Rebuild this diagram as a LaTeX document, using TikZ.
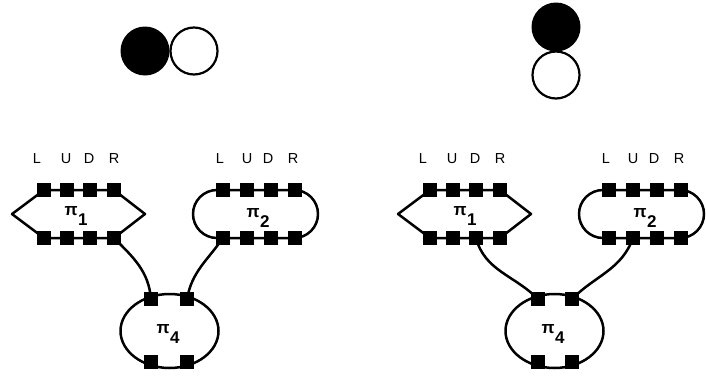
\documentclass[tikz,border=0pt]{standalone}
\usepackage{fontspec}
\setmainfont{Liberation Sans}
\begin{document}
\begin{tikzpicture}[x=1pt,y=-1pt,
  wire/.style={line width=2.5pt,line join=round},
  port/.style={fill=black,draw=none,minimum size=14pt,inner sep=0pt,outer sep=0pt},
  dirlabel/.style={font=\fontsize{14.5}{16}\selectfont,inner sep=0pt},
  pilabel/.style={font=\fontsize{17}{19}\selectfont\bfseries,inner sep=0pt},
  disc/.style={line width=2.2pt}]
\newcommand\pisub[1]{π\kern0.5pt\raisebox{-10pt}{#1}}
\useasboundingbox (0,0) rectangle (706,375);

% ---- orientation markers ----
\fill[disc] (145,51) circle (24.5);
\draw[disc,fill=white] (194,51) circle (23.5);
\fill[disc] (556,27) circle (24.5);
\draw[disc,fill=white] (556,75) circle (23.5);

% ---- direction labels ----
\foreach \dx in {0,386}{
  \node[dirlabel] (l\dx a) at (37+\dx,159) {L};
  \node[dirlabel] (u\dx a) at (66+\dx,159) {U};
  \node[dirlabel] (d\dx a) at (89+\dx,159) {D};
  \node[dirlabel] (r\dx a) at (114+\dx,159) {R};
  \node[dirlabel] (l\dx b) at (220+\dx,159) {L};
  \node[dirlabel] (u\dx b) at (247+\dx,159) {U};
  \node[dirlabel] (d\dx b) at (268+\dx,159) {D};
  \node[dirlabel] (r\dx b) at (293+\dx,159) {R};
}

% ---- module outlines ----
\foreach \dx in {0,386}{
  % hexagonal module pi_1
  \draw[wire] (44+\dx,190) -- (114+\dx,190) -- (145+\dx,214) -- (114+\dx,238)
        -- (44+\dx,238) -- (12+\dx,214) -- cycle;
  % rounded module pi_2
  \draw[wire,rounded corners=24pt] (193+\dx,190) rectangle (318+\dx,238);
}
% oval module pi_4
\draw[wire] (169.5,331) ellipse [x radius=49, y radius=37];
\draw[wire] (554.5,331) ellipse [x radius=49, y radius=37];

% ---- ports ----
\foreach \dx/\p in {0/a,386/b}{
  \foreach \i/\x in {1/44,2/67,3/90,4/114}{
    \node[port] (\p m1u\i) at (\x+\dx,190) {};
    \node[port] (\p m1d\i) at (\x+\dx,238) {};
  }
  \foreach \i/\x in {1/223,2/247,3/271,4/295}{
    \node[port] (\p m2u\i) at (\x+\dx,190) {};
    \node[port] (\p m2d\i) at (\x+\dx,238) {};
  }
}
\node[port] (am4u1) at (151,299) {};
\node[port] (am4u2) at (187,299) {};
\node[port] (am4d1) at (151,362) {};
\node[port] (am4d2) at (187,362) {};
\node[port] (bm4u1) at (538,299) {};
\node[port] (bm4u2) at (572,299) {};
\node[port] (bm4d1) at (538,362) {};
\node[port] (bm4d2) at (572,362) {};

% ---- module names ----
\node[pilabel] (an1) at (76,216) {\pisub{1}};
\node[pilabel] (an2) at (258,218) {\pisub{2}};
\node[pilabel] (an4) at (168,334) {\pisub{4}};
\node[pilabel] (bn1) at (465,216) {\pisub{1}};
\node[pilabel] (bn2) at (645,218) {\pisub{2}};
\node[pilabel] (bn4) at (553,334) {\pisub{4}};

% ---- connections ----
\draw[wire] (am1d4.center) to[out=-45,in=95] (am4u1.center);
\draw[wire] (am2d1.center) to[out=-125,in=80] (am4u2.center);
\draw[wire] (bm1d3.center) to[out=-75,in=135] (bm4u1.center);
\draw[wire] (bm2d2.center) to[out=-110,in=45] (bm4u2.center);
% redraw the connected ports on top of the wires
\foreach \n in {am1d4,am4u1,am2d1,am4u2,bm1d3,bm4u1,bm2d2,bm4u2}{
  \fill (\n.south west) rectangle (\n.north east);
}
\end{tikzpicture}
\end{document}
